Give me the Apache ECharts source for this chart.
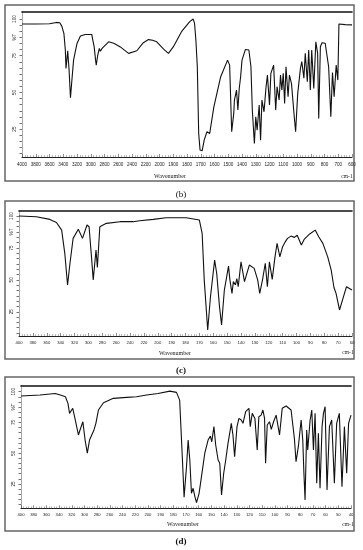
<!DOCTYPE html>
<html><head><meta charset="utf-8">
<script src="https://cdn.jsdelivr.net/npm/echarts@6/dist/echarts.min.js"></script>
<style>html,body{margin:0;padding:0;background:#fff}#c{width:363px;height:550px}</style>
</head><body><div id="c"></div>
<script>
// ---- data (wavenumber cm-1, %T) ----
const wnB = [4000,3800,3600,3500,3450,3420,3390,3370,3360,3348,3335,3315,3295,3275,3250,3200,3150,3080,2985,2970,2950,2930,2920,2900,2875,2860,2835,2740,2665,2570,2450,2330,2235,2160,2100,2040,1970,1935,1900,1840,1780,1755,1745,1735,1725,1715,1705,1690,1675,1655,1635,1605,1555,1505,1490,1475,1460,1455,1440,1430,1420,1410,1400,1375,1350,1335,1325,1310,1300,1290,1275,1265,1255,1240,1225,1215,1200,1190,1170,1155,1145,1130,1120,1110,1100,1090,1080,1065,1055,1040,1020,1010,995,975,965,950,940,925,915,903,893,878,863,850,842,830,818,795,770,754,742,730,715,703,695,650,600];
const tB  = [96.6,96.6,96.8,97.7,97.5,95,90,79,66.4,72,78.4,65,46.4,58,72,83.4,88.4,89.5,89.5,85.7,81,72,68.6,75,80,78,80,84.5,83.5,81,76.6,78.4,83.9,86,85.5,84.5,79.5,76.6,81,91.4,98.2,100,97,85,67.5,22,10.7,10.2,17.5,23.2,22,40,60.7,72,68.6,23.2,35.7,44.8,51.6,38,52.7,60.7,72,79.3,78.9,67.5,38,15.2,33.4,24.3,41.4,17.5,44.8,36.8,53.9,61.8,41.4,63,68.6,38,53.9,44.8,61.8,51.6,63,42.5,67.5,47,61.8,56,33.4,23.2,49,66.4,71,59.7,76.6,57.3,78.9,51.6,78.9,52.7,84.5,76.6,32.3,81.1,83.9,83.5,67.5,33.4,63.6,47,68.6,58.4,96.6,96.2,96];

const wnC = [4000,3750,3555,3460,3385,3340,3300,3265,3220,3145,3085,3020,2990,2955,2930,2890,2870,2835,2740,2545,2355,2260,2065,1940,1795,1700,1680,1665,1640,1620,1590,1575,1555,1540,1520,1490,1480,1465,1455,1440,1430,1420,1400,1375,1340,1305,1280,1265,1245,1225,1210,1195,1175,1155,1140,1120,1100,1080,1065,1040,1015,995,965,945,905,865,840,810,775,750,730,715,690,665,640,600];
const tC  = [100,99.5,97.4,95,89,70.8,46,63,82.5,89.6,82.5,93,91.6,68,50,73.4,59.8,91.6,94.3,95.6,95.6,96.3,97.4,98.7,98.7,96.9,86.4,50,10.7,36.8,65.5,55,29,14.6,42,60.8,50,39.4,48.6,46,51,44.6,64.2,48.6,61.6,59,50,39.4,50,63,44.6,64.2,50.4,68,78.6,68,76,80,82.5,84.3,83.3,85,77.3,81.7,86,89,83.8,78.6,68,57.7,44,39.4,26.4,35.5,44.6,42];

const wnD = [4000,3700,3460,3380,3300,3260,3235,3210,3185,3150,3095,3070,3025,2990,2955,2920,2885,2850,2820,2780,2700,2545,2335,2180,2020,1920,1827,1775,1750,1728,1715,1696,1683,1670,1657,1644,1630,1617,1597,1578,1552,1526,1508,1497,1480,1466,1447,1434,1420,1403,1387,1369,1356,1343,1330,1317,1298,1283,1265,1251,1230,1204,1194,1178,1168,1157,1139,1126,1108,1094,1081,1073,1060,1042,1028,1010,990,976,963,942,911,872,846,833,815,793,780,772,762,749,741,722,709,696,683,670,657,644,628,617,604,589,570,552,531,513,492,471,452,434,419,400];
const tD  = [96.5,97.3,98.6,97.3,95.9,90.5,82.4,81,86.5,78.3,64.8,68.9,75.6,60.7,50,60.7,64.8,68.9,74.3,85.1,91,94.6,95.4,95.9,97.3,98.6,100.5,99.5,93.2,44.5,14.2,39,60.7,44.5,17.4,21.5,14.7,9.8,17.4,31,50,60.7,63.9,59.3,71.6,56.7,44.5,41.8,16.1,33.7,44.5,58,66.2,74.3,64.8,47.2,71.6,78.3,77,74.3,83.8,86.5,71.6,82.4,83.8,78.3,52.6,79.7,81,85.1,78.3,41.8,72.9,75.6,69.4,75.6,81,79.7,64.8,86.5,88.4,85.1,62,43.1,55.3,77,60.7,36.4,12,68.9,52.6,77,85.1,52.6,82.4,25.5,66.2,21.5,71.6,82.4,87.8,20.1,71.6,77,25.5,74.3,82.4,22.8,71.6,33.7,74.3,81];

const yLabelValues = [25, 50, 75, 87.5, 100];
const yLabelTexts  = ['25', '50', '75', '%T', '100'];
const panelLetters = ['(b)', '(c)', '(d)'];

// IR scale: 4000-2000 compressed x2 relative to 2000-400
const toU = w => w >= 2000 ? (4000 - w) / 2 : 1000 + (2000 - w);
const fromU = u => u <= 1000 ? 4000 - 2 * u : 2000 - (u - 1000);

const yTicks = [];
for (let v = 100; v >= 5; v -= 25 / 6) yTicks.push(+v.toFixed(3));

const panels = [
  {wn: wnB, t: tB, grid: {left: 22, top: 12, width: 330, height: 145}, umax: 2400, ymin: 6, ymax: 104.8, div: 1, lblFs: 4.6, lblMargin: 5.5},
  {wn: wnC, t: tC, grid: {left: 19, top: 210.7, width: 333, height: 125.3}, umax: 2400, ymin: 6, ymax: 104.2, div: 10, lblFs: 4.2, lblMargin: 4.5},
  {wn: wnD, t: tD, grid: {left: 21, top: 385.7, width: 330, height: 122.6}, umax: 2600, ymin: 5.2, ymax: 104.9, div: 10, lblFs: 4.2, lblMargin: 5}
];

const grid = [], xAxis = [], yAxis = [], series = [];
panels.forEach((p, i) => {
  grid.push(Object.assign({containLabel: false}, p.grid));
  xAxis.push({
    type: 'value', gridIndex: i, min: 0, max: p.umax, interval: 100, position: 'bottom',
    axisLine: {show: true, lineStyle: {color: '#222', width: 1}},
    axisTick: {show: true, inside: true, length: 3, lineStyle: {color: '#444', width: 0.6}},
    minorTick: {show: true, splitNumber: 5, length: 1.8, lineStyle: {color: '#666', width: 0.5}},
    splitLine: {show: false},
    axisLabel: {fontSize: p.lblFs, color: '#222', margin: p.lblMargin, fontFamily: 'Liberation Sans, Arial, sans-serif',
      formatter: v => String(Math.round(fromU(v) / p.div)), showMinLabel: true, showMaxLabel: true, hideOverlap: false}
  });
  xAxis.push({
    type: 'value', gridIndex: i, min: 0, max: p.umax, position: 'top',
    axisLine: {show: true, lineStyle: {color: '#111', width: 1.6}},
    axisTick: {show: false}, axisLabel: {show: false}, splitLine: {show: false}
  });
  yAxis.push({
    type: 'value', gridIndex: i, min: p.ymin, max: p.ymax, position: 'left',
    axisLine: {show: true, lineStyle: {color: '#222', width: 1}},
    axisTick: {show: true, inside: false, length: 2.5, customValues: yTicks, lineStyle: {color: '#333', width: 0.7}},
    splitLine: {show: false},
    axisLabel: {show: true, rotate: 90, fontSize: 4.6, color: '#222', margin: 4.5, fontFamily: 'Liberation Sans, Arial, sans-serif',
      customValues: yLabelValues,
      formatter: v => { const k = yLabelValues.indexOf(v); return k >= 0 ? yLabelTexts[k] : ''; }}
  });
  yAxis.push({
    type: 'value', gridIndex: i, min: p.ymin, max: p.ymax, position: 'right',
    axisLine: {show: true, lineStyle: {color: '#ccc', width: 0.8}},
    axisTick: {show: false}, axisLabel: {show: false}, splitLine: {show: false}
  });
  series.push({
    type: 'line', xAxisIndex: 2 * i, yAxisIndex: 2 * i, showSymbol: false, silent: true, animation: false,
    lineStyle: {color: '#111', width: 1.1},
    data: p.wn.map((w, k) => [toU(w), p.t[k]])
  });
});

const serif = 'Liberation Serif, DejaVu Serif, serif';
const graphic = [
  {type: 'rect', shape: {x: 5, y: 5, width: 349, height: 176}, style: {fill: 'none', stroke: '#666', lineWidth: 1.5}},
  {type: 'rect', shape: {x: 5, y: 201, width: 349, height: 158}, style: {fill: 'none', stroke: '#666', lineWidth: 1.5}},
  {type: 'rect', shape: {x: 5, y: 377, width: 349, height: 154}, style: {fill: 'none', stroke: '#666', lineWidth: 1.5}},
  {type: 'text', x: 170, y: 176, style: {text: 'Wavenumber', font: '6px ' + serif, fill: '#222', textAlign: 'center', textVerticalAlign: 'middle'}},
  {type: 'text', x: 347, y: 176.5, style: {text: 'cm-1', font: '5.5px ' + serif, fill: '#222', textAlign: 'center', textVerticalAlign: 'middle'}},
  {type: 'text', x: 175, y: 353, style: {text: 'Wavenumber', font: '6px ' + serif, fill: '#222', textAlign: 'center', textVerticalAlign: 'middle'}},
  {type: 'text', x: 348, y: 353, style: {text: 'cm-1', font: '5.5px ' + serif, fill: '#222', textAlign: 'center', textVerticalAlign: 'middle'}},
  {type: 'text', x: 183, y: 524.5, style: {text: 'Wavenumber', font: '6px ' + serif, fill: '#222', textAlign: 'center', textVerticalAlign: 'middle'}},
  {type: 'text', x: 348, y: 524.5, style: {text: 'cm-1', font: '5.5px ' + serif, fill: '#222', textAlign: 'center', textVerticalAlign: 'middle'}},
  {type: 'text', x: 181, y: 195, style: {text: panelLetters[0], font: '9px ' + serif, fill: '#111', textAlign: 'center', textVerticalAlign: 'middle'}},
  {type: 'text', x: 181, y: 371, style: {text: panelLetters[1], font: 'bold 9px ' + serif, fill: '#111', textAlign: 'center', textVerticalAlign: 'middle'}},
  {type: 'text', x: 181, y: 542, style: {text: panelLetters[2], font: 'bold 9px ' + serif, fill: '#111', textAlign: 'center', textVerticalAlign: 'middle'}}
];

const chart = echarts.init(document.getElementById('c'), null, {renderer: 'canvas'});
chart.setOption({animation: false, backgroundColor: '#fff', grid, xAxis, yAxis, series, graphic});
</script></body></html>
